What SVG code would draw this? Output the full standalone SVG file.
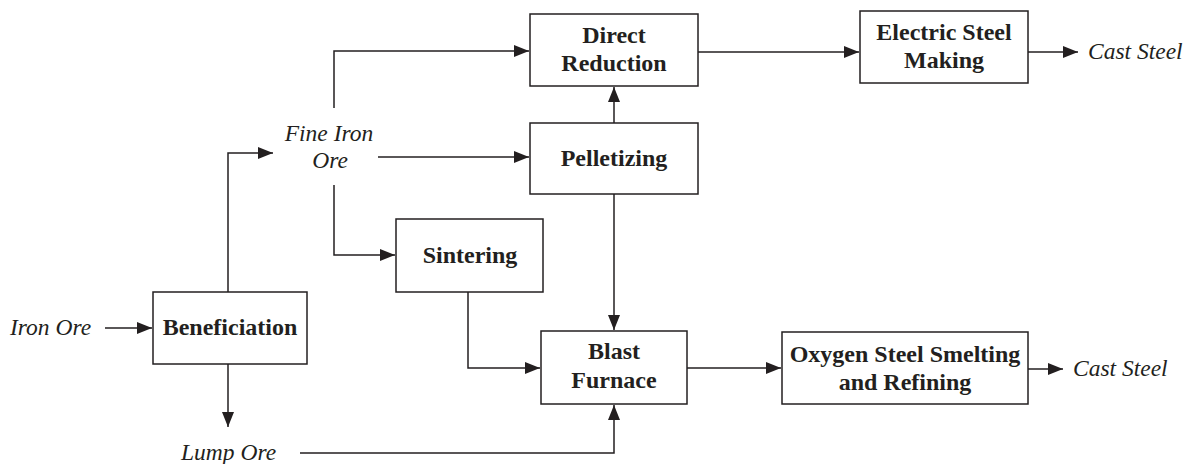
<svg xmlns="http://www.w3.org/2000/svg" width="1193" height="464" viewBox="0 0 1193 464">
<style>
.box{fill:#fff;stroke:#231f20;stroke-width:1.5}
.b{font-family:"Liberation Serif",serif;font-weight:bold;font-size:24px;fill:#231f20;text-anchor:middle}
.i{font-family:"Liberation Serif",serif;font-style:italic;font-size:23.5px;fill:#231f20}
.c{fill:none;stroke:#231f20;stroke-width:1.5}
</style>
<defs>
<marker id="ah" markerUnits="userSpaceOnUse" markerWidth="16" markerHeight="13" refX="15" refY="6" orient="auto">
<path d="M0,0 L15,6 L0,12 z" fill="#231f20"/>
</marker>
</defs>
<rect width="1193" height="464" fill="#fff"/>
<g id="connectors">
<path class="c" d="M105,328 H152" marker-end="url(#ah)"/>
<path class="c" d="M228,292 V153 H273" marker-end="url(#ah)"/>
<path class="c" d="M228,364 V427" marker-end="url(#ah)"/>
<path class="c" d="M334,108 V51 H529" marker-end="url(#ah)"/>
<path class="c" d="M378,157 H529" marker-end="url(#ah)"/>
<path class="c" d="M334,185 V255 H395" marker-end="url(#ah)"/>
<path class="c" d="M614,123 V87" marker-end="url(#ah)"/>
<path class="c" d="M614,194 V330" marker-end="url(#ah)"/>
<path class="c" d="M468,292 V368 H540" marker-end="url(#ah)"/>
<path class="c" d="M300,453 H614 V405" marker-end="url(#ah)"/>
<path class="c" d="M698,52 H859" marker-end="url(#ah)"/>
<path class="c" d="M1028,52 H1078" marker-end="url(#ah)"/>
<path class="c" d="M687,368 H781" marker-end="url(#ah)"/>
<path class="c" d="M1028,369 H1063" marker-end="url(#ah)"/>
</g>
<g id="iron-ore"><text class="i" x="10" y="335">Iron Ore</text></g>
<g id="fine-iron-ore"><text class="i" x="329" y="141" text-anchor="middle">Fine Iron</text><text class="i" x="330" y="168" text-anchor="middle">Ore</text></g>
<g id="lump-ore"><text class="i" x="181" y="460">Lump Ore</text></g>
<g id="cast-steel-1"><text class="i" x="1088" y="59">Cast Steel</text></g>
<g id="cast-steel-2"><text class="i" x="1073" y="376">Cast Steel</text></g>
<g id="beneficiation"><rect class="box" x="153" y="292" width="154" height="72"/><text class="b" x="230" y="335">Beneficiation</text></g>
<g id="direct-reduction"><rect class="box" x="530" y="14" width="168" height="72"/><text class="b" x="614" y="43">Direct</text><text class="b" x="614" y="71">Reduction</text></g>
<g id="pelletizing"><rect class="box" x="530" y="123" width="168" height="71"/><text class="b" x="614" y="166">Pelletizing</text></g>
<g id="sintering"><rect class="box" x="396" y="219" width="147" height="73"/><text class="b" x="470" y="263">Sintering</text></g>
<g id="blast-furnace"><rect class="box" x="541" y="331" width="146" height="73"/><text class="b" x="614" y="359">Blast</text><text class="b" x="614" y="388">Furnace</text></g>
<g id="electric-steel"><rect class="box" x="860" y="11" width="168" height="72"/><text class="b" x="944" y="40">Electric Steel</text><text class="b" x="944" y="68">Making</text></g>
<g id="oxygen-steel"><rect class="box" x="782" y="332" width="246" height="72"/><text class="b" x="905" y="362">Oxygen Steel Smelting</text><text class="b" x="905" y="390">and Refining</text></g>
</svg>
